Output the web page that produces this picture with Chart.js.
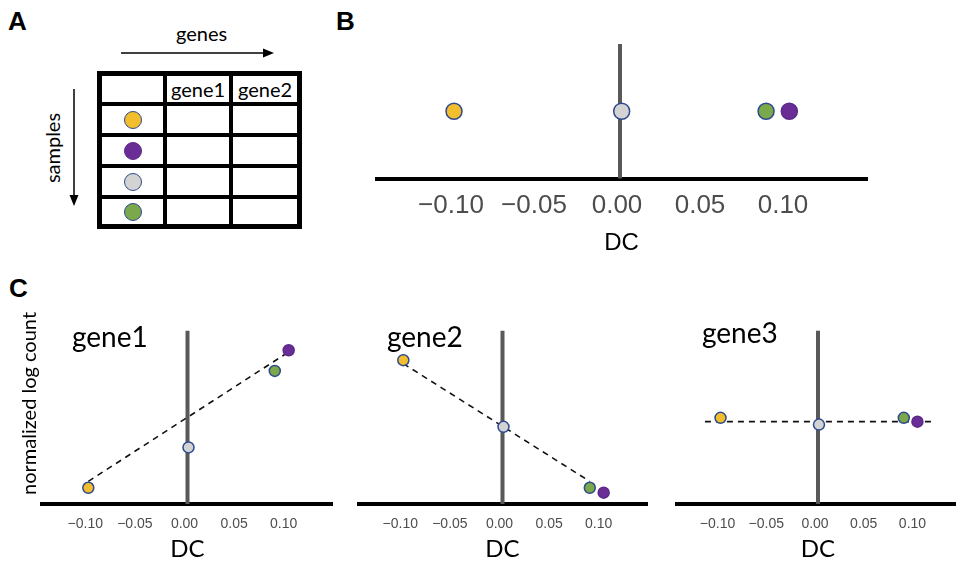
<!DOCTYPE html>
<html>
<head>
<meta charset="utf-8">
<script src="https://cdn.jsdelivr.net/npm/chart.js@4.4.1/dist/chart.umd.min.js"></script>
<style>
  body { margin: 0; width: 956px; height: 568px; overflow: hidden; background: #fff; position: relative; font-family: Lato, sans-serif; }
  canvas, .txt, svg, .grid { position: absolute; }
  .panel { font-family: "Liberation Sans", Arial, sans-serif; font-weight: bold; font-size: 26px; line-height: 26px; }
  .gene { font-size: 28px; line-height: 28px; }
  .grid { left: 97px; top: 71px; background: #000; padding: 5px; display: grid; gap: 4px;
          grid-template-columns: 61px 62px 64px; grid-template-rows: 26px 27px 27px 27px 25px; }
  .grid div { background: #fff; display: flex; align-items: center; justify-content: center; font-size: 20px; }
  .dot { width: 16px; height: 16px; border-radius: 50%; border: 1.5px solid #2e4a8e; }
</style>
</head>
<body>

<div class="txt panel" style="left:8px; top:8px;">A</div>
<div class="txt panel" style="left:336px; top:8px;">B</div>
<div class="txt panel" style="left:9px; top:275px;">C</div>

<!-- panel A: samples x genes table -->
<div class="txt" style="left:176px; top:23px; font-size:20px; line-height:20px;">genes</div>
<svg width="956" height="260" style="left:0; top:0;">
  <line x1="121" y1="53" x2="266" y2="53" stroke="#000" stroke-width="1.5"/>
  <polygon points="274,53 263,48.5 263,57.5" fill="#000"/>
  <line x1="74" y1="89" x2="74" y2="198" stroke="#000" stroke-width="1.5"/>
  <polygon points="74,206 69.5,195 78.5,195" fill="#000"/>
</svg>
<div class="txt" style="left:12px; top:138px; width:80px; text-align:center; font-size:20px; line-height:20px; transform:rotate(-90deg); transform-origin:50% 50%;">samples</div>
<div class="grid" id="table"></div>

<!-- panel B and C charts -->
<canvas id="chartB" width="493" height="214" style="left:375px; top:44px;"></canvas>
<canvas id="chartC1" width="315" height="261" style="left:18px; top:303px;"></canvas>
<canvas id="chartC2" width="291" height="261" style="left:357px; top:303px;"></canvas>
<canvas id="chartC3" width="286" height="261" style="left:675px; top:303px;"></canvas>

<div class="txt gene" style="left:72px; top:322px;">gene1</div>
<div class="txt gene" style="left:387px; top:322px;">gene2</div>
<div class="txt gene" style="left:702px; top:318px;">gene3</div>

<script>
// samples, in table order (top to bottom)
var sampleColors = ['#f2be2e', '#6a2d96', '#d3d3d3', '#7aa84a'];
var sampleEdges  = ['#2e4a8e', '#5b2a88', '#2e4a8e', '#2e4a8e'];
var dcValues     = [-0.100, 0.102, 0.001, 0.088];

// normalized log count per gene, same sample order
var gene1Counts = [0.93, 8.87, 3.26, 7.68];
var gene2Counts = [8.30, 0.65, 4.45, 0.93];
var gene3Counts = [4.97, 4.75, 4.58, 4.97];

// dashed fit lines (DC range, count at ends)
var fit1Dc = [-0.100, 0.100],  fit1Counts = [1.3, 8.7];
var fit2Dc = [-0.100, 0.088],  fit2Counts = [8.1, 1.3];
var fit3Dc = [-0.116, 0.116],  fit3Counts = [4.75, 4.75];

var tickValues = [-0.10, -0.05, 0.00, 0.05, 0.10];
var tableHeader = ['', 'gene1', 'gene2'];

// ---- table (panel A)
var table = document.getElementById('table');
tableHeader.forEach(function(h) {
  var c = document.createElement('div'); c.textContent = h; table.appendChild(c);
});
sampleColors.forEach(function(col, i) {
  for (var k = 0; k < 3; k++) {
    var c = document.createElement('div');
    if (k === 0) {
      var d = document.createElement('div');
      d.className = 'dot';
      d.style.background = col;
      d.style.borderColor = sampleEdges[i];
      c.appendChild(d);
    }
    table.appendChild(c);
  }
});

// ---- charts
function fmtTick(v) {
  if (Math.abs(v) < 1e-9) return '0.00';
  return (v < 0 ? '\u2212' : '') + Math.abs(v).toFixed(2);
}

function pts(xs, ys) {
  return xs.map(function(x, i) { return {x: x, y: ys[i]}; });
}

function dcChart(id, c) {
  var datasets = [{
    data: pts(dcValues, c.counts),
    pointBackgroundColor: sampleColors,
    pointBorderColor: sampleEdges,
    pointBorderWidth: 1.5,
    pointRadius: c.radius,
    clip: false,
    order: 0
  }];
  if (c.fitDc) {
    datasets.push({
      data: pts(c.fitDc, c.fitCounts),
      showLine: true, borderColor: '#111', borderWidth: 1.6, borderDash: [6, 5],
      pointRadius: 0, clip: false, order: 1
    });
  }
  datasets.push({
    data: [{x: 0, y: 0}, {x: 0, y: c.vTop}],
    showLine: true, borderColor: '#595959', borderWidth: 4,
    pointRadius: 0, clip: false, order: 2
  });

  return new Chart(document.getElementById(id), {
    type: 'scatter',
    data: { datasets: datasets },
    options: {
      responsive: false,
      animation: false,
      events: [],
      layout: { padding: 0, autoPadding: false },
      plugins: { legend: { display: false }, tooltip: { enabled: false } },
      scales: {
        x: {
          type: 'linear', min: c.xMin, max: c.xMax,
          afterBuildTicks: function(s) { s.ticks = tickValues.map(function(v) { return {value: v}; }); },
          grid: { display: false, drawTicks: false },
          border: { display: true, width: 4, color: '#000' },
          ticks: { padding: c.tickPad, labelOffset: -3, color: '#4d4d4d', maxRotation: 0, autoSkip: false,
                   font: { family: 'Liberation Sans', size: c.tickSize }, callback: fmtTick },
          title: { display: true, text: 'DC', color: '#000', font: c.titleFont, padding: { top: c.titlePad, bottom: 0 } }
        },
        y: {
          min: 0, max: c.yMax,
          display: !!c.yTitle,
          grid: { display: false, drawTicks: false },
          border: { display: false },
          ticks: { display: false },
          title: { display: !!c.yTitle, text: c.yTitle || '', color: '#000',
                   font: { family: 'Lato', size: 20 }, padding: 0 }
        }
      }
    }
  });
}

dcChart('chartB', {
  counts: [1, 1, 1, 1], radius: 8, vTop: 2, yMax: 2,
  xMin: -0.1476, xMax: 0.1494, tickSize: 26, tickPad: 12,
  titleFont: { family: 'Liberation Sans', size: 24 }, titlePad: -4.5
});

var cOpts = { radius: 5.5, vTop: 10, yMax: 11.6, xMin: -0.1467, xMax: 0.1467,
              tickSize: 14, tickPad: 12, titleFont: { family: 'Lato', size: 24 }, titlePad: -9.5 };

dcChart('chartC1', Object.assign({}, cOpts, { counts: gene1Counts, fitDc: fit1Dc, fitCounts: fit1Counts, yTitle: 'normalized log count' }));
dcChart('chartC2', Object.assign({}, cOpts, { counts: gene2Counts, fitDc: fit2Dc, fitCounts: fit2Counts }));
dcChart('chartC3', Object.assign({}, cOpts, { counts: gene3Counts, fitDc: fit3Dc, fitCounts: fit3Counts }));
</script>
</body>
</html>
